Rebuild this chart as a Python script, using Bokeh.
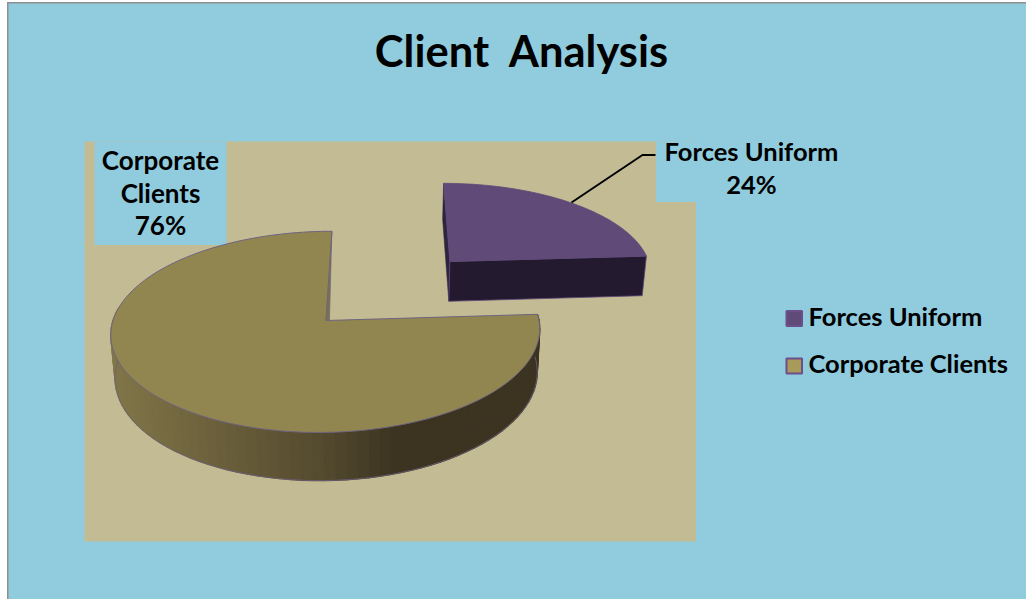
import math
from bokeh.plotting import figure
from bokeh.core.properties import value
from bokeh.embed import file_html
from bokeh.resources import INLINE

# ---- data ----
title_text = "Client\u00a0\u00a0Analysis"
categories = ["Forces Uniform", "Corporate Clients"]
shares = [24, 76]
top_colors = ["#5F4A78", "#928650"]
legend_fill = ["#5F4A78", "#A89B5A"]

# ---- layout (pixels) ----
W, H = 1026, 599
BLUE, PLOT = "#90CCDD", "#C3BB94"
FONT = value("Lato")
VX = 383.5      # vanishing x
P = 0.113       # perspective strength
R = 213.0       # radius
CX, CY = 325.5, 320.0
RK = 99.3       # vertical squash * radius
DEPTH = 42.7    # extrusion
Q = 0.984       # lower rim shrink
EXPLODE_X, EXPLODE_V = 128.6, -0.637


def project(u, v, lower=False):
    s = 1.0 / (1.0 - P * v)
    x = VX + (CX - VX + R * u) * s
    y = CY + RK * v * s
    if lower:
        x = VX + (x - VX) * Q
        y = y + DEPTH * s
    return x, y


def rim(a0, a1, n, ox=0.0, ov=0.0, lower=False):
    """Points along the rim; angles in degrees clockwise from the top."""
    pts = []
    for i in range(n + 1):
        a = math.radians(a0 + (a1 - a0) * i / n)
        pts.append(project(math.sin(a) + ox / R, -math.cos(a) + ov, lower))
    return pts


p = figure(width=W, height=H, x_range=(0, W), y_range=(H, 0), toolbar_location=None,
           output_backend="svg", min_border=0, outline_line_color=None,
           background_fill_color="white", border_fill_color="white")
p.xaxis.visible = False
p.yaxis.visible = False
p.grid.visible = False

# frame, then plot area
p.quad(left=[6.5], right=[W + 1], top=[1.5], bottom=[H + 1], fill_color="#8F8F8F", line_color=None)
p.quad(left=[8], right=[W + 1], top=[3], bottom=[H + 1], fill_color=BLUE, line_color=None)
p.quad(left=[84], right=[695.5], top=[141], bottom=[541], fill_color=PLOT, line_color=None)
p.quad(left=[94, 655.5], right=[226, 697], top=[141, 141], bottom=[244.5, 201.5], fill_color=BLUE, line_color=None)

# angles derived from the shares (clockwise from the top)
sweep_a = 360.0 * shares[0] / sum(shares)

# --- exploded slice ---
ox, ov = EXPLODE_X, EXPLODE_V
apex_t = project(ox / R, ov)
apex_b = project(ox / R, ov, True)
back_t = project(ox / R, -1 + ov)
back_b = project(ox / R, -1 + ov, True)
right_t = rim(sweep_a, sweep_a, 1, ox, ov)[0]
right_b = rim(sweep_a, sweep_a, 1, ox, ov, True)[0]
p.patch([apex_t[0], back_t[0], back_b[0], apex_b[0]], [apex_t[1], back_t[1], back_b[1], apex_b[1]],
        fill_color="#2E2440", line_color="#2E2440", line_width=0.5)
p.patch([apex_t[0], right_t[0], right_b[0], apex_b[0]], [apex_t[1], right_t[1], right_b[1], apex_b[1]],
        fill_color="#231A2F", line_color="#5F4A78", line_width=0.8)
pts = [apex_t] + rim(0, sweep_a, 60, ox, ov)
p.patch([q[0] for q in pts], [q[1] for q in pts], fill_color=top_colors[0], line_color="#5F4A78", line_width=0.8)

# leader line
p.line([571, 642, 655], [202, 154.5, 154.5], line_color="black", line_width=2)

# --- main slice: side wall with stepped gradient ---
n_wall = 70
t_rim = rim(sweep_a, 277, n_wall)
b_rim = rim(sweep_a, 277, n_wall, lower=True)
stops = [(110, (128, 118, 72)), (210, (108, 97, 60)), (320, (84, 74, 46)), (395, (60, 52, 33)), (540, (60, 52, 33))]


def shade(x):
    for (x0, c0), (x1, c1) in zip(stops, stops[1:]):
        if x <= x1:
            f = max(0.0, (x - x0) / (x1 - x0))
            return "#%02x%02x%02x" % tuple(round(a + (b - a) * f) for a, b in zip(c0, c1))
    return "#3c3421"


xs, ys, cols = [], [], []
for i in range(n_wall):
    xs.append([t_rim[i][0], t_rim[i + 1][0], b_rim[i + 1][0], b_rim[i][0]])
    ys.append([t_rim[i][1], t_rim[i + 1][1], b_rim[i + 1][1], b_rim[i][1]])
    cols.append(shade((t_rim[i][0] + t_rim[i + 1][0]) / 2))
p.patches(xs, ys, fill_color=cols, line_color=cols, line_width=1.4)
p.line([q[0] for q in b_rim], [q[1] for q in b_rim], line_color="#6B6080", line_width=0.8)

# top of main slice
apex = project(0, 0)
pts = [apex] + rim(sweep_a, 360, 160)
p.patch([q[0] for q in pts], [q[1] for q in pts], fill_color=top_colors[1], line_color="#6E6480", line_width=1)
# inner wall sliver
end = rim(360, 360, 1)[0]
p.patch([apex[0], end[0], apex[0] + 3.5], [apex[1], end[1], apex[1]], fill_color="#7A7050", line_color="#6E6480", line_width=0.6)

# --- texts ---
p.text([521], [49], text=[title_text], text_font=FONT, text_font_style="bold", text_font_size="43.5px",
       text_align="center", text_baseline="middle", text_color="black")
pct = [f"{s}%" for s in shares]
p.text([751, 751], [150, 183], text=[categories[0], pct[0]], text_font=FONT, text_font_style="bold",
       text_font_size="25.5px", text_align="center", text_baseline="middle", text_color="black")
corp_words = categories[1].split(" ")
p.text([160, 160, 160], [159, 192, 224], text=[corp_words[0], corp_words[1], pct[1]], text_font=FONT,
       text_font_style="bold", text_font_size="26px", text_align="center", text_baseline="middle", text_color="black")

# legend
leg_y = [318, 365.5]
p.quad(left=[786, 786], right=[801.5, 801.5], top=[y - 7.5 for y in leg_y], bottom=[y + 7.5 for y in leg_y],
       fill_color=legend_fill, line_color="#6A4F8C", line_width=2)
p.text([808, 808], [y - 3 for y in leg_y], text=categories, text_font=FONT, text_font_style="bold", text_font_size="25.5px",
       text_align="left", text_baseline="middle", text_color="black")

open("out.html", "w").write(file_html(p, INLINE))
